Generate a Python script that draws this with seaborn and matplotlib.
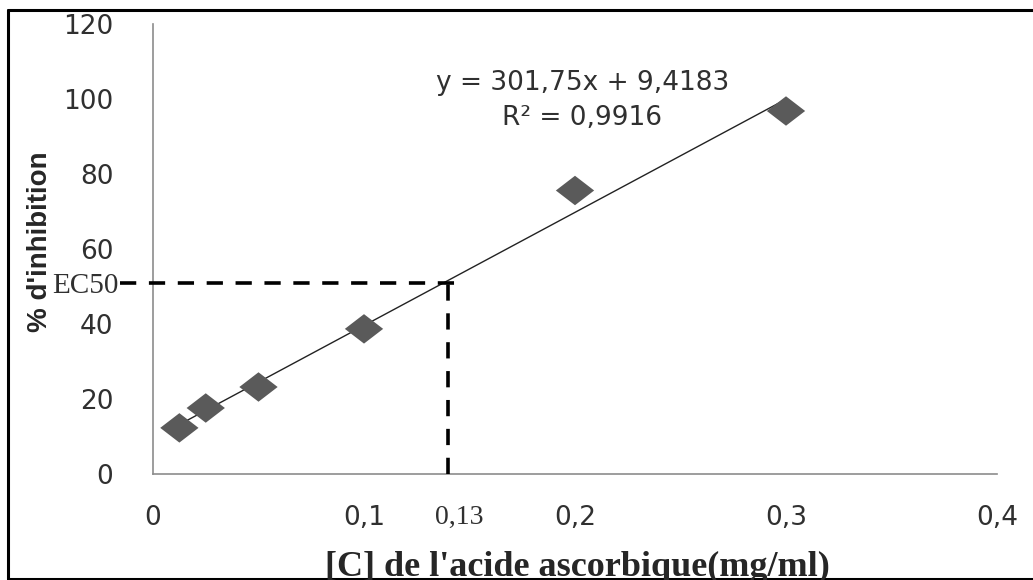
import numpy as np
import seaborn as sns
import matplotlib.pyplot as plt
from matplotlib.lines import Line2D
from matplotlib.path import Path

# measured points (concentration mg/ml vs % inhibition)
conc = [0.0125, 0.025, 0.05, 0.1, 0.2, 0.3]
inhibition = [12.3, 17.6, 23.2, 38.7, 75.6, 96.8]

# linear fit shown on the chart
slope, intercept = 301.75, 9.4183
eq_text = "y = 301,75x + 9,4183"
r2_text = "R² = 0,9916"

ec50_x = 0.14
ec50_y = 50.9

x_ticks = [0, 0.1, 0.2, 0.3, 0.4]
x_labels = ["0", "0,1", "0,2", "0,3", "0,4"]
y_ticks = [0, 20, 40, 60, 80, 100, 120]

sns.set_style("white")
plt.rcParams['font.family'] = ['DejaVu Sans']

W, H = 1033, 580
fig = plt.figure(figsize=(W / 100, H / 100), dpi=100)
ax = fig.add_axes([153 / W, 1 - 474 / H, (997 - 153) / W, (474 - 24) / H])

# wide diamond marker (reference is stretched horizontally)
diamond = Path([(-1.3, 0), (0, 1), (1.3, 0), (0, -1), (-1.3, 0)],
               [Path.MOVETO, Path.LINETO, Path.LINETO, Path.LINETO, Path.CLOSEPOLY])

sns.scatterplot(x=conc, y=inhibition, marker=diamond, s=760, color="#5a5a5a",
                edgecolor="none", ax=ax, zorder=3)

xs = np.array([conc[0], conc[-1]])
sns.lineplot(x=xs, y=slope * xs + intercept, color="#222222", linewidth=1.0, ax=ax, zorder=2)

# EC50 guide lines
ax.plot([-0.0155, ec50_x + 0.0045], [ec50_y, ec50_y], color="black", lw=2.6,
        dashes=(4.5, 3.5), clip_on=False, zorder=4)
ax.plot([ec50_x, ec50_x], [0, ec50_y], color="black", lw=2.6,
        dashes=(4.5, 3.5), clip_on=False, zorder=4)

ax.set_xlim(0, 0.4)
ax.set_ylim(0, 120)
ax.set_xticks(x_ticks)
ax.set_xticklabels(x_labels)
ax.set_yticks(y_ticks)

for side in ["top", "right"]:
    ax.spines[side].set_visible(False)
for side in ["left", "bottom"]:
    ax.spines[side].set_color("#8c8c8c")
    ax.spines[side].set_linewidth(1.2)

ax.tick_params(axis="both", direction="out", width=1.2, color="#8c8c8c",
               labelsize=19, labelcolor="#303030")
ax.tick_params(axis="x", length=8, pad=14.5)
ax.tick_params(axis="y", length=10, pad=18.5)

ax.text(0.145, -11.5, "0,13", family="Liberation Serif", fontsize=20,
        ha="center", va="center", color="#303030")
ax.text(-0.0163, ec50_y - 0.8, "EC50", family="Liberation Serif", fontsize=21,
        ha="right", va="center", color="#303030")

ax.text(0.2035, 104.3, eq_text, fontsize=19, ha="center", va="center", color="#303030")
ax.text(0.2035, 94.9, r2_text, fontsize=19, ha="center", va="center", color="#303030")

fig.text(40 / W, 1 - 242 / H, "% d'inhibition", rotation=90, fontsize=20,
         fontweight="bold", family=["Liberation Sans"], ha="center", va="center")
fig.text(577 / W, 1 - 576 / H, "[C] de l'acide ascorbique(mg/ml)",
         family="Liberation Serif", fontweight="bold", fontsize=26,
         ha="center", va="baseline")

# outer frame (left, top, bottom)
for xs_, ys_ in [([7.5, 7.5], [10, 579]), ([7.5, W], [10, 10]), ([7.5, W], [579, 579])]:
    fig.add_artist(Line2D([v / W for v in xs_], [1 - v / H for v in ys_],
                          color="black", lw=2.2))

fig.savefig("out.png", dpi=100)
